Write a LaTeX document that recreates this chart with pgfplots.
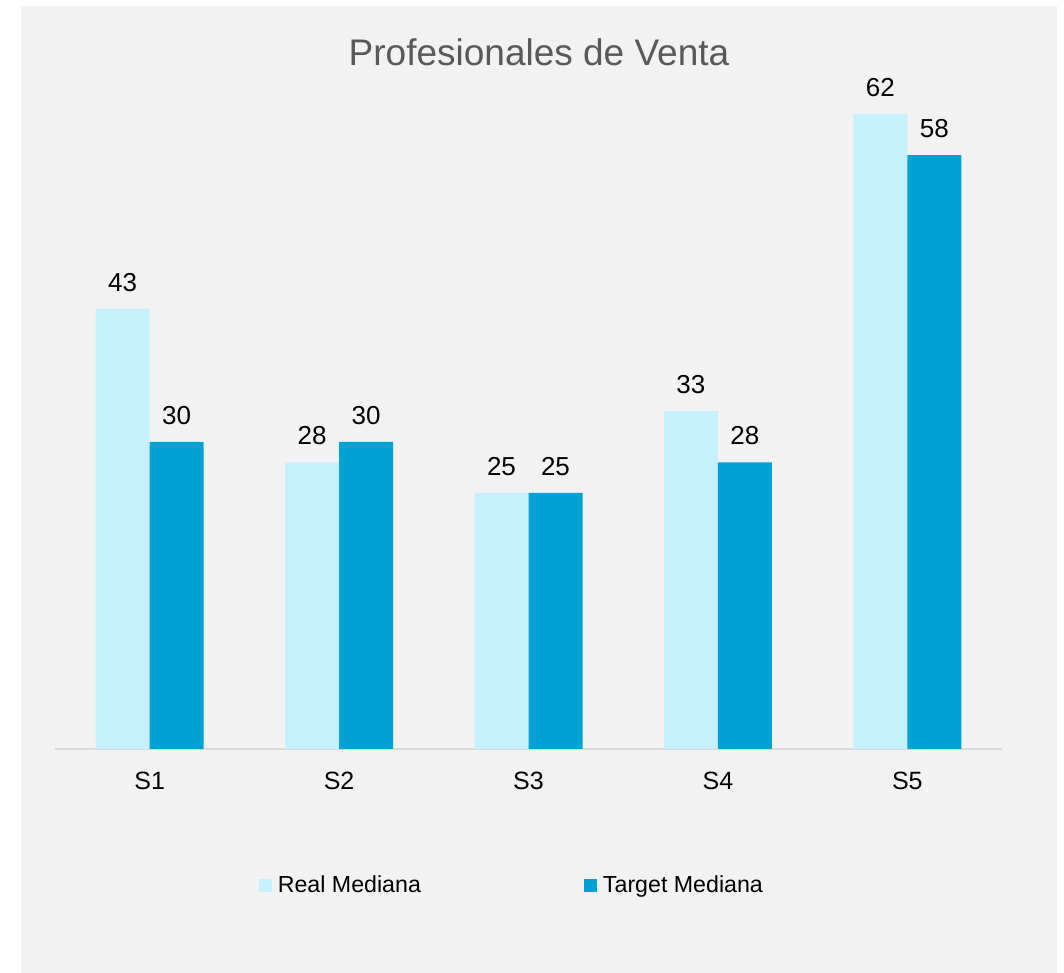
\documentclass[border=0pt]{standalone}
\usepackage{pgfplots}
\pgfplotsset{compat=1.18}
\usepackage{fontspec}
\setmainfont{Liberation Sans}
\definecolor{bg}{HTML}{F2F2F2}
\definecolor{axisgray}{HTML}{D9D9D9}
\definecolor{titlegray}{HTML}{595959}
\definecolor{reallight}{HTML}{C6F0FD}
\definecolor{targetblue}{HTML}{00A2D3}

\begin{document}
\begin{tikzpicture}
% page and chart area (1px = 0.5pt)
\fill[white] (0,0) rectangle (532pt,486.5pt);
\fill[bg] (10.5pt,0) rectangle (528.5pt,483.5pt);
\begin{axis}[
  at={(27.5pt,112pt)}, anchor=south west,
  scale only axis, width=473.5pt, height=358.4pt,
  ybar=0pt, bar width=27pt,
  xmin=-0.5, xmax=4.5, ymin=0, ymax=70,
  xtick=data, xticklabels={S1,S2,S3,S4,S5},
  ytick=\empty,
  axis x line*=bottom, axis y line=none,
  x axis line style={draw=axisgray, line width=1pt, -},
  major tick length=0pt,
  /pgf/number format/assume math mode=true,
  xticklabel style={font=\fontsize{12.5}{15}\selectfont, text=black, yshift=-8pt},
  nodes near coords,
  every node near coord/.append style={font=\fontsize{13}{15}\selectfont, text=black, inner sep=0pt, yshift=8.5pt},
  legend columns=2,
  legend style={at={(0.2085,-0.191)}, anchor=west, draw=none, fill=none,
    font=\fontsize{11.6}{14}\selectfont, nodes={inner sep=1.5pt},
    /tikz/every even column/.append style={column sep=80pt}},
  legend image code/.code={\fill[#1] (0pt,-3.25pt) rectangle (6.5pt,3.25pt); \path (0pt,0pt) -- (8pt,0pt);},
]
\addplot[fill=reallight, draw=none] coordinates {(0,43) (1,28) (2,25) (3,33) (4,62)};
\addplot[fill=targetblue, draw=none] coordinates {(0,30) (1,30) (2,25) (3,28) (4,58)};
\legend{Real Mediana, Target Mediana}
\end{axis}
\node[font=\fontsize{18.5}{22}\selectfont, text=titlegray] at (269.5pt,460.5pt) {Profesionales de Venta};
\end{tikzpicture}
\end{document}
